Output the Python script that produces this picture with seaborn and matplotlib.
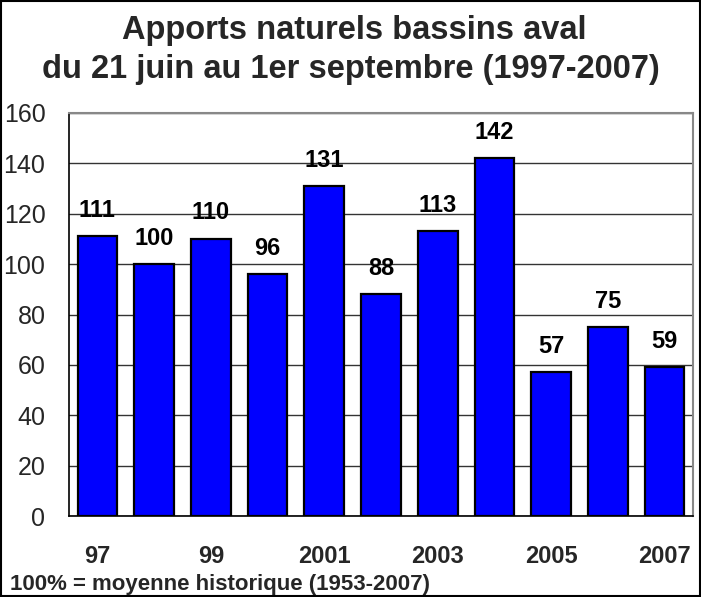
import matplotlib
matplotlib.use("Agg")
import matplotlib.pyplot as plt
import seaborn as sns
import pandas as pd
from matplotlib.patches import Rectangle

years = ["97", "98", "99", "2000", "2001", "2002", "2003", "2004", "2005", "2006", "2007"]
values = [111, 100, 110, 96, 131, 88, 113, 142, 57, 75, 59]
tick_labels = ["97", "", "99", "", "2001", "", "2003", "", "2005", "", "2007"]
title_1 = "Apports naturels bassins aval"
title_2 = "du 21 juin au 1er septembre (1997-2007)"
footer = "100% = moyenne historique (1953-2007)"

sns.set_theme(style="white")
plt.rcParams['font.family'] = ['Liberation Sans', 'DejaVu Sans']

df = pd.DataFrame({"year": years, "value": values})

fig = plt.figure(figsize=(7.01, 5.97), dpi=100)
ax = fig.add_axes([69/701, 1-516/597, (693-69)/701, (516-113)/597])

sns.barplot(data=df, x="year", y="value", color="#0000FF", saturation=1,
            edgecolor="black", linewidth=1.6, width=0.7, ax=ax, zorder=3)

ax.set_ylim(0, 160)
ax.set_xlim(-0.5, len(years)-0.5)
ax.set_yticks(range(0, 161, 20))
ax.yaxis.grid(True, color="#333333", linewidth=1, zorder=0)
ax.set_axisbelow(True)
ax.set_xlabel("")
ax.set_ylabel("")

ax.set_xticks(range(len(years)))
ax.set_xticklabels(tick_labels, fontsize=17, fontweight="bold")
ax.set_xticks([i - 0.5 for i in range(len(years)+1)], minor=True)
ax.tick_params(axis="x", which="major", length=0, pad=21)
ax.tick_params(axis="x", which="minor", length=16, direction="inout", width=1, color="#555555")
ax.tick_params(axis="y", which="major", length=8, direction="out", width=1, color="black",
               labelsize=18, pad=9)
for lab in ax.get_yticklabels():
    lab.set_fontweight("normal")

for i, v in enumerate(values):
    ax.annotate(str(v), (i, v), xytext=(0, 14), textcoords="offset points",
                ha="center", va="baseline", fontsize=17, fontweight="bold", color="black")

for s in ["left", "bottom"]:
    ax.spines[s].set_color("black")
    ax.spines[s].set_linewidth(1.2)
for s in ["top", "right"]:
    ax.spines[s].set_visible(True)
    ax.spines[s].set_color("#888888")
    ax.spines[s].set_linewidth(1.5)

fig.text(354/701, 1-39/597, title_1, ha="center", va="baseline", fontsize=23.5, fontweight="bold")
fig.text(351/701, 1-78/597, title_2, ha="center", va="baseline", fontsize=23.5, fontweight="bold")
fig.text(10/701, 1-590/597, footer, ha="left", va="baseline", fontsize=16, fontweight="bold")

fig.patches.append(Rectangle((0.001, 0.001), 0.998, 0.997, transform=fig.transFigure,
                             fill=False, edgecolor="black", linewidth=1.5, zorder=10))

fig.savefig("out.png", dpi=100)
